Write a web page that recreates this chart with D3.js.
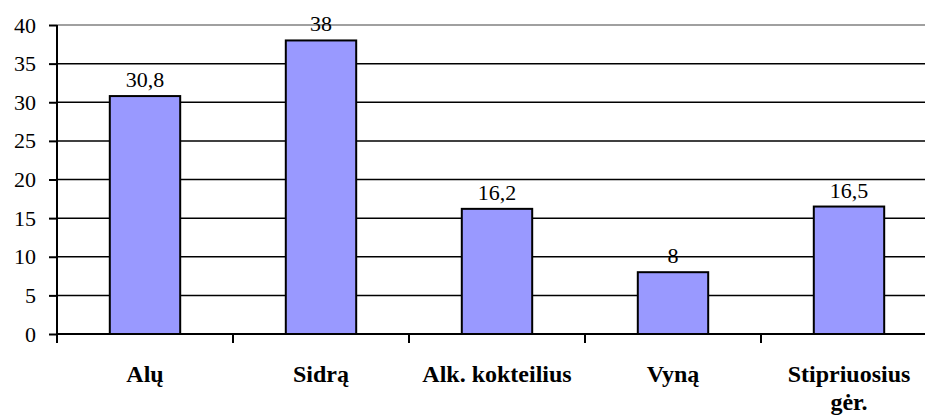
<!DOCTYPE html>
<html lang="lt">
<head>
    <meta charset="UTF-8">
    <title>Gėrimai</title>
    <style>
        body { margin: 0; background: #fff; }
        svg { display: block; }
    </style>
</head>
<script src="https://cdn.jsdelivr.net/npm/d3@7"></script>
<body>
<script>
    // duomenys
    var categories = ["Alų", "Sidrą", "Alk. kokteilius", "Vyną", "Stipriuosius gėr."];
    var values = [30.8, 38, 16.2, 8, 16.5];
    var valueLabels = ["30,8", "38", "16,2", "8", "16,5"];
    var yTicks = [0, 5, 10, 15, 20, 25, 30, 35, 40];

    var width = 925;
    var height = 417;
    var mLeft = 57, mTop = 25, mBottom = 334;
    var slot = 176; // kategorijos plotis
    var serif = "'Liberation Serif', 'Times New Roman', serif";

    var svg = d3.select("body")
            .append("svg")
            .attr("width", width)
            .attr("height", height);

    var x = d3.scaleBand()
            .domain(categories)
            .range([mLeft, mLeft + slot * categories.length])
            .padding(0);

    var y = d3.scaleLinear()
            .domain([0, 40])
            .range([mBottom, mTop]);

    var barW = x.bandwidth() * 0.4;

    // tinklelis
    svg.selectAll("line.grid")
            .data(yTicks.filter(function (d) { return d > 0; }))
            .enter()
            .append("line")
            .attr("class", "grid")
            .attr("x1", mLeft)
            .attr("x2", x.range()[1])
            .attr("y1", function (d) { return y(d); })
            .attr("y2", function (d) { return y(d); })
            .attr("stroke", function (d) { return d === 40 ? "#808080" : "#000"; })
            .attr("stroke-width", 1.5);

    // stulpeliai
    svg.selectAll("rect")
            .data(values)
            .enter()
            .append("rect")
            .attr("x", function (d, i) { return x(categories[i]) + (x.bandwidth() - barW) / 2; })
            .attr("y", function (d) { return y(d); })
            .attr("width", barW)
            .attr("height", function (d) { return y(0) - y(d); })
            .attr("fill", "#9999ff")
            .attr("stroke", "#000")
            .attr("stroke-width", 2);

    // reikšmės
    svg.selectAll("text.val")
            .data(values)
            .enter()
            .append("text")
            .attr("class", "val")
            .attr("x", function (d, i) { return x(categories[i]) + x.bandwidth() / 2; })
            .attr("y", function (d) { return y(d) - 9; })
            .attr("text-anchor", "middle")
            .style("font-family", serif)
            .style("font-size", "22px")
            .text(function (d, i) { return valueLabels[i]; });

    // Y ašis
    var yAxis = svg.append("g")
            .attr("transform", "translate(" + mLeft + ",0)")
            .call(d3.axisLeft(y).tickValues(yTicks).tickSize(8).tickPadding(13));
    yAxis.select(".domain").attr("stroke", "#000").attr("stroke-width", 2).attr("d", "M0," + mBottom + "V" + mTop);
    yAxis.selectAll(".tick line").attr("stroke", "#000").attr("stroke-width", 2);
    yAxis.selectAll(".tick text")
            .style("font-family", serif)
            .style("font-size", "22px")
            .attr("fill", "#000");

    // X ašis
    var xAxis = svg.append("g")
            .attr("transform", "translate(0," + mBottom + ")");
    xAxis.append("line")
            .attr("x1", mLeft)
            .attr("x2", x.range()[1])
            .attr("stroke", "#000")
            .attr("stroke-width", 2);
    xAxis.selectAll("line.tick")
            .data(categories)
            .enter()
            .append("line")
            .attr("class", "tick")
            .attr("x1", function (d) { return x(d); })
            .attr("x2", function (d) { return x(d); })
            .attr("y1", 0)
            .attr("y2", 9)
            .attr("stroke", "#000")
            .attr("stroke-width", 2);

    var labels = svg.selectAll("text.cat")
            .data(categories)
            .enter()
            .append("text")
            .attr("class", "cat")
            .attr("text-anchor", "middle")
            .style("font-family", serif)
            .style("font-size", "24px")
            .style("font-weight", "bold")
            .attr("y", 382);

    labels.each(function (d) {
        var t = d3.select(this);
        var cx = x(d) + x.bandwidth() / 2;
        t.text(d);
        if (this.getComputedTextLength() > x.bandwidth() - 20) {
            // per ilgas - laužom į dvi eilutes
            var words = d.split(" ");
            var last = words.pop();
            t.text(null);
            t.append("tspan").attr("x", cx).attr("dy", 0).text(words.join(" "));
            t.append("tspan").attr("x", cx).attr("dy", 28).text(last);
        } else {
            t.attr("x", cx);
        }
    });
</script>
</body>
</html>
